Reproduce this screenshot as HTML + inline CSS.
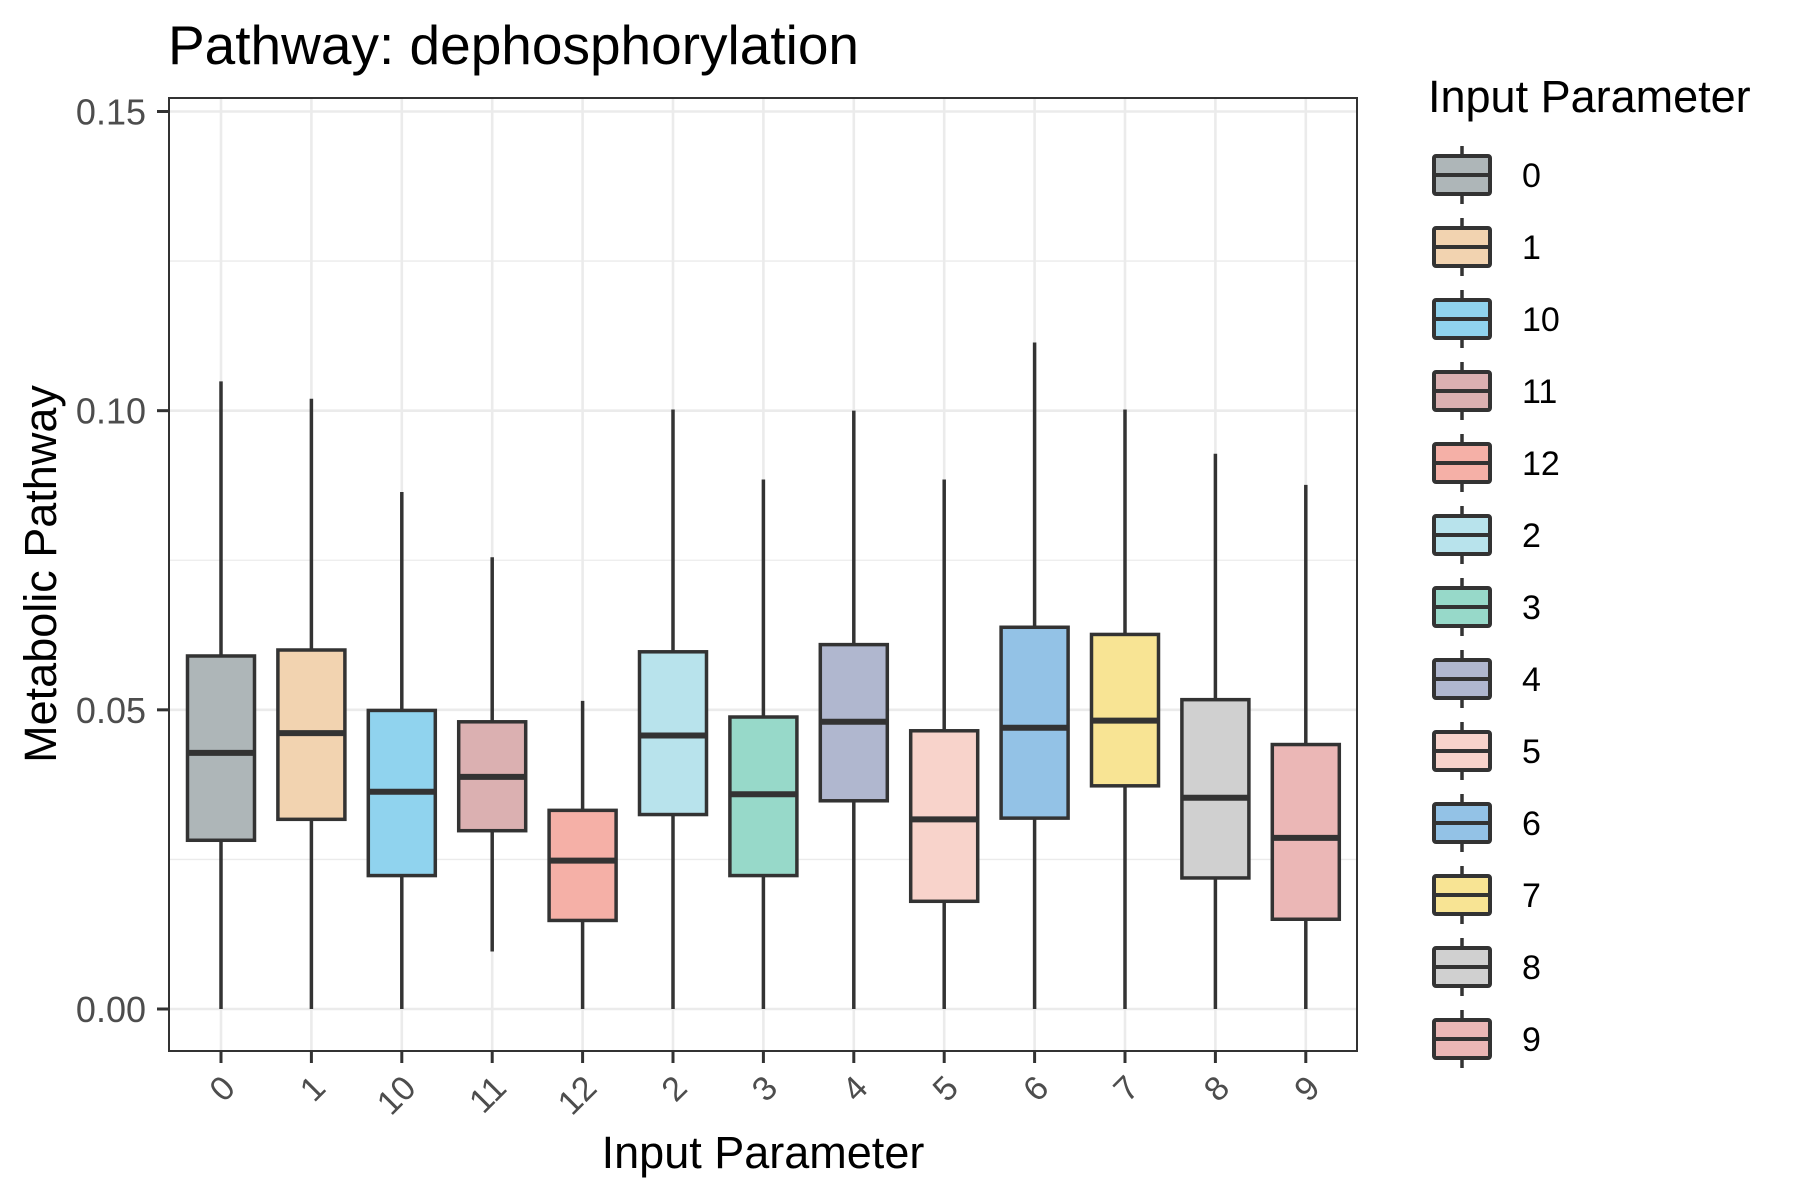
<!DOCTYPE html>
<html><head><meta charset="utf-8"><style>
body{margin:0;background:#fff;}
svg{display:block;font-family:"Liberation Sans",Arial,sans-serif;}
</style></head><body>
<svg id="chart" width="1800" height="1200" viewBox="0 0 1800 1200">
<rect width="1800" height="1200" fill="#fff"/>
<text x="168" y="64" font-size="55" fill="#000">Pathway: dephosphorylation</text>
<g id="grid"></g>
<g id="boxes"></g>
<rect x="169" y="98" width="1188" height="953" fill="none" stroke="#333" stroke-width="2"/>
<g id="axes"></g>
<text x="763" y="1168" font-size="45" text-anchor="middle" fill="#000">Input Parameter</text>
<text transform="translate(56,574) rotate(-90)" font-size="45" text-anchor="middle" fill="#000">Metabolic Pathway</text>
<text x="1428" y="112" font-size="45" fill="#000">Input Parameter</text>
<g id="legend"></g>
</svg>
<script>
const categories = ["0","1","10","11","12","2","3","4","5","6","7","8","9"];
const whiskerLow = [0,0,0,0.0096,0,0,0,0,0,0,0,0,0];
const q1Values = [0.0282,0.0317,0.0223,0.0298,0.0148,0.0325,0.0223,0.0348,0.0180,0.0319,0.0373,0.0219,0.0150];
const medianValues = [0.0428,0.0461,0.0363,0.0388,0.0248,0.0457,0.0359,0.0480,0.0317,0.0470,0.0482,0.0353,0.0286];
const q3Values = [0.0590,0.0600,0.0499,0.0480,0.0332,0.0597,0.0488,0.0609,0.0465,0.0638,0.0626,0.0517,0.0442];
const whiskerHigh = [0.1049,0.1020,0.0864,0.0755,0.0515,0.1002,0.0885,0.1000,0.0885,0.1114,0.1002,0.0928,0.0876];
const colors = ["#aeb6b8","#f2d3b0","#90d3ee","#dbb0b1","#f5b0a7","#b8e3ec","#97d9c9","#b0b7cf","#f8d3cb","#93c2e6","#f8e494","#d0d0d0","#ebb7b6"];
const yTicks = [0,0.05,0.10,0.15];
const yTickLabels = ["0.00","0.05","0.10","0.15"];

const NS="http://www.w3.org/2000/svg";
function mk(tag,attrs,parent){const e=document.createElementNS(NS,tag);for(const k in attrs)e.setAttribute(k,attrs[k]);parent.appendChild(e);return e;}
const y=v=>1009-v*(897.5/0.15);
const x=i=>221+i*90.4;
const grid=document.getElementById('grid'),boxes=document.getElementById('boxes'),axes=document.getElementById('axes'),legend=document.getElementById('legend');
for(let k=0;k<3;k++){const v=0.025+k*0.05;
 const l=mk('line',{x1:169,x2:1357,y1:y(v),y2:y(v),stroke:'#ebebeb','stroke-width':1.3},grid);
 
 }
yTicks.forEach((v,i)=>{
 const l=mk('line',{x1:169,x2:1357,y1:y(v),y2:y(v),stroke:'#ebebeb','stroke-width':2.6},grid);
 
 
 const t=mk('line',{x1:157,x2:169,y1:y(v),y2:y(v),stroke:'#333','stroke-width':3},axes);
 
 
 const tx=mk('text',{x:146,y:y(v)+13,'font-size':36,'text-anchor':'end',fill:'#4d4d4d'},axes);
 tx.textContent=yTickLabels[i];
 
 
});
categories.forEach((c,i)=>{
 const cx=x(i);
 const g=mk('line',{x1:cx,x2:cx,y1:98,y2:1051,stroke:'#ebebeb','stroke-width':2.6},grid);
 
 
 const w=mk('line',{x1:cx,x2:cx,y1:y(whiskerLow[i]),y2:y(whiskerHigh[i]),stroke:'#333','stroke-width':3.5},boxes);
 
 
 const b=mk('rect',{x:cx-33.5,y:y(q3Values[i]),width:67,height:y(q1Values[i])-y(q3Values[i]),fill:colors[i],stroke:'#333','stroke-width':3.5},boxes);
 
 
 const m=mk('line',{x1:cx-33.5,x2:cx+33.5,y1:y(medianValues[i]),y2:y(medianValues[i]),stroke:'#333','stroke-width':6},boxes);
 
 
 const t=mk('line',{x1:cx,x2:cx,y1:1051,y2:1063,stroke:'#333','stroke-width':3},axes);
 
 
 const tx=mk('text',{transform:`translate(${cx+16},1090) rotate(-45)`,'font-size':34,'text-anchor':'end',fill:'#4d4d4d'},axes);
 tx.textContent=c;
 
 
 const ly=175+i*72, lx=1462;
 const lg=mk('g',{},legend);
 
 
 mk('line',{x1:lx,x2:lx,y1:ly-29,y2:ly+29,stroke:'#333','stroke-width':3.5},lg);
 mk('rect',{x:lx-28,y:ly-19,width:56,height:38,rx:2,fill:colors[i],stroke:'#333','stroke-width':4},lg);
 mk('line',{x1:lx-28,x2:lx+28,y1:ly,y2:ly,stroke:'#333','stroke-width':4},lg);
 const lt=mk('text',{x:1522,y:ly+12,'font-size':34,fill:'#000'},lg);
 lt.textContent=c;
 
 
});
</script>
</body></html>
